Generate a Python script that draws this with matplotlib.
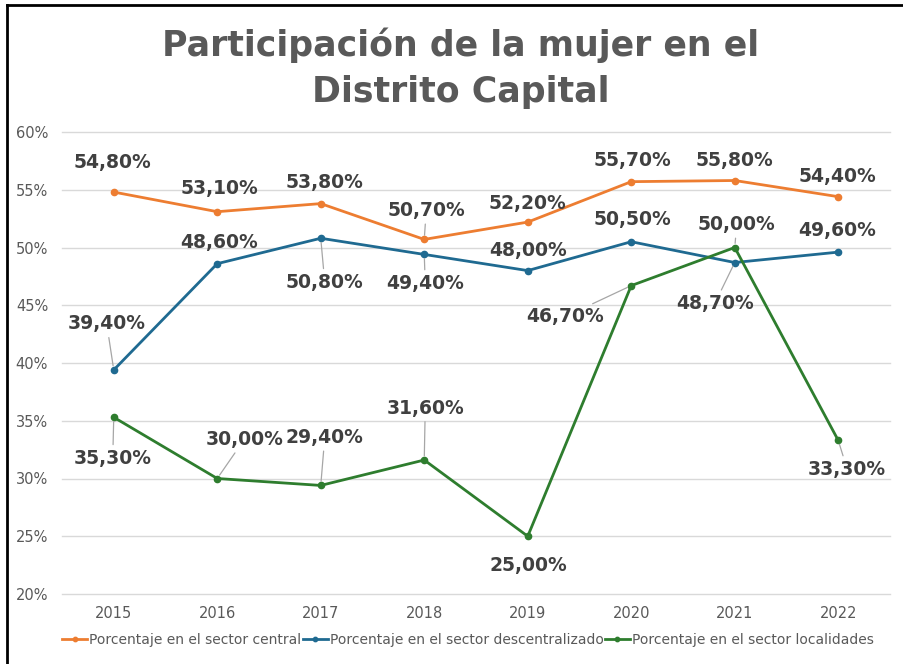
import matplotlib
matplotlib.use("Agg")
import matplotlib.pyplot as plt
from matplotlib.lines import Line2D

years = ["2015", "2016", "2017", "2018", "2019", "2020", "2021", "2022"]
central = [54.8, 53.1, 53.8, 50.7, 52.2, 55.7, 55.8, 54.4]
descentralizado = [39.4, 48.6, 50.8, 49.4, 48.0, 50.5, 48.7, 49.6]
localidades = [35.3, 30.0, 29.4, 31.6, 25.0, 46.7, 50.0, 33.3]
series_names = ["Porcentaje en el sector central",
                "Porcentaje en el sector descentralizado",
                "Porcentaje en el sector localidades"]
colors = ["#ED7D31", "#1F6A91", "#2E7D2E"]
yticks = [20, 25, 30, 35, 40, 45, 50, 55, 60]

# label offsets in pixels (dx, dy up) and leader-line flags
off_central = [(-1, 30), (2, 23), (4, 21), (2, 29), (0, 19), (1, 21), (0, 20), (-1, 20)]
off_desc = [(-7, 46), (2, 21), (4, -44), (1, -29), (0, 20), (1, 22), (-20, -41), (-1, 22)]
off_loc = [(-1, -41), (27, 39), (4, 48), (1, 52), (1, -29), (-66, -31), (2, 23), (9, -29)]
lead_central = [False, False, False, True, False, False, False, False]
lead_desc = [True, False, True, True, False, False, True, False]
lead_loc = [True, True, True, True, False, True, True, True]

fig = plt.figure(figsize=(9.04, 6.64), dpi=100)
ax = fig.add_axes([62 / 904, 1 - 594 / 664, (890 - 62) / 904, (594 - 132) / 664])

x = list(range(len(years)))
for vals, col, name in zip([central, descentralizado, localidades], colors, series_names):
    ax.plot(x, vals, color=col, lw=2.0, marker="o", ms=4.5, label=name, zorder=3)

def fmt(v):
    return f"{v:.2f}".replace(".", ",") + "%"

def annotate(vals, offs, leads):
    for i, v in enumerate(vals):
        dx, dy = offs[i]
        kw = {}
        if leads[i]:
            kw["arrowprops"] = dict(arrowstyle="-", color="#A6A6A6", lw=0.9,
                                    shrinkA=1, shrinkB=3)
        ax.annotate(fmt(v), (i, v), xytext=(dx * 0.72, dy * 0.72),
                    textcoords="offset points",
                    ha="center", va="center", fontsize=13.5, fontweight="bold",
                    color="#404040", zorder=5, **kw)

annotate(central, off_central, lead_central)
annotate(descentralizado, off_desc, lead_desc)
annotate(localidades, off_loc, lead_loc)

ax.set_xlim(-0.5, len(years) - 0.5)
ax.set_ylim(20, 60)
ax.set_yticks(yticks)
ax.set_yticklabels([f"{t}%" for t in yticks])
ax.set_xticks(x)
ax.set_xticklabels(years)
ax.grid(axis="y", color="#D9D9D9", lw=1)
for gl in ax.get_ygridlines():
    gl.set_clip_on(False)
ax.set_axisbelow(True)
for s in ax.spines.values():
    s.set_visible(False)
ax.tick_params(length=0, labelsize=10.5, colors="#595959")
ax.tick_params(axis="x", pad=9)
ax.tick_params(axis="y", pad=10)

fig.text(461 / 904, 1 - 45 / 664, "Participación de la mujer en el",
         ha="center", va="center", fontsize=25, fontweight="bold", color="#595959")
fig.text(461 / 904, 1 - 92 / 664, "Distrito Capital",
         ha="center", va="center", fontsize=25, fontweight="bold", color="#595959")

leg = fig.legend(loc="center", bbox_to_anchor=(468 / 904, 1 - 640 / 664), ncol=3,
                 frameon=False, fontsize=10, handlelength=1.8, handletextpad=0.15,
                 columnspacing=0.1, markerscale=0.7, labelcolor="#595959")

fig.add_artist(Line2D([7 / 904, 7 / 904], [0, 1 - 5 / 664], color="black", lw=2.0,
                      transform=fig.transFigure))
fig.add_artist(Line2D([7 / 904, 1], [1 - 5 / 664, 1 - 5 / 664], color="black", lw=2.0,
                      transform=fig.transFigure))

fig.savefig("out.png", dpi=100)
